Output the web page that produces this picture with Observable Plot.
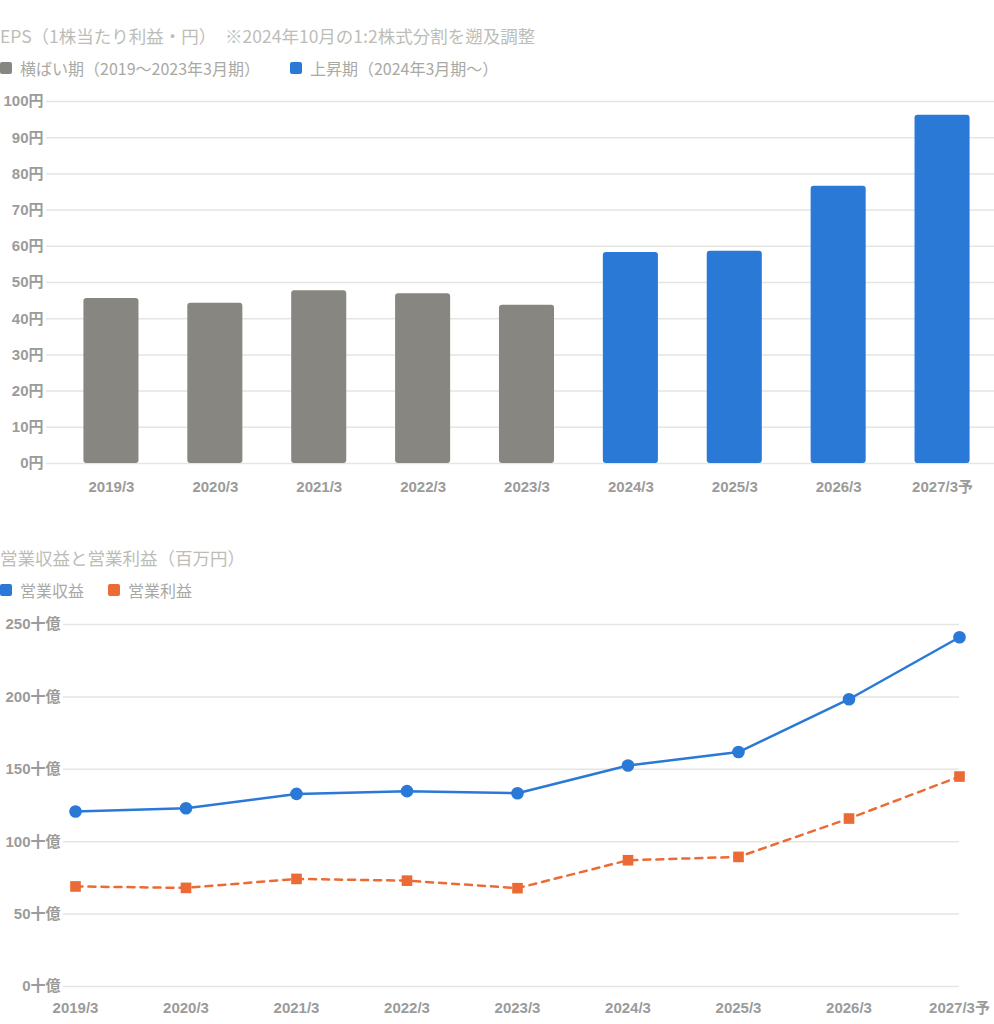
<!DOCTYPE html>
<html>
<head>
<meta charset="utf-8">
<script src="https://cdn.jsdelivr.net/npm/d3@7"></script>
<script src="https://cdn.jsdelivr.net/npm/@observablehq/plot@0.6"></script>
<style>
  html, body { margin: 0; padding: 0; background: #fff; }
  #wrap { position: relative; width: 994px; height: 1024px; overflow: hidden; font-family: "Noto Sans CJK JP", "Noto Sans", sans-serif; }
  .title { position: absolute; left: 0; font-size: 17.5px; color: #bdbdb7; white-space: nowrap; line-height: 1; }
  .legend { position: absolute; left: 0; font-size: 16px; color: #a9a9a4; white-space: nowrap; line-height: 1; display: flex; align-items: center; }
  .legend .item { display: flex; align-items: center; }
  .legend .sw { width: 12px; height: 12px; border-radius: 2px; margin-right: 8px; }
  .chart { position: absolute; left: 0; }
</style>
</head>
<body>
<div id="wrap">
  <div class="title" id="t1" style="top:27px"></div>
  <div class="legend" id="l1" style="top:60px"></div>
  <div class="chart" id="c1" style="top:90px"></div>
  <div class="title" id="t2" style="top:549px"></div>
  <div class="legend" id="l2" style="top:582px"></div>
  <div class="chart" id="c2" style="top:610px"></div>
</div>
<script>
// ---- data ----
const years = ["2019/3", "2020/3", "2021/3", "2022/3", "2023/3", "2024/3", "2025/3", "2026/3", "2027/3予"];
const eps = [45.6, 44.3, 47.7, 46.9, 43.7, 58.3, 58.6, 76.6, 96.2];
const phase = ["横ばい期", "横ばい期", "横ばい期", "横ばい期", "横ばい期", "上昇期", "上昇期", "上昇期", "上昇期"];
const phaseLabels = ["横ばい期（2019〜2023年3月期）", "上昇期（2024年3月期〜）"];
const revenue = [120.9, 123.1, 133.0, 134.9, 133.5, 152.6, 161.9, 198.4, 241.2];
const opIncome = [69.1, 68.1, 74.3, 73.1, 67.9, 87.2, 89.5, 116.0, 145.0];
const epsTicks = [0, 10, 20, 30, 40, 50, 60, 70, 80, 90, 100];
const revTicks = [0, 50, 100, 150, 200, 250];
const title1 = "EPS（1株当たり利益・円）　※2024年10月の1:2株式分割を遡及調整";
const title2 = "営業収益と営業利益（百万円）";
const seriesNames = ["営業収益", "営業利益"];

const gray = "#878680", blue = "#2a79d6", orange = "#ec6a35";
const gridColor = "#e6e5e0";
const tickFont = '"Liberation Sans", Arial, "Noto Sans CJK JP", sans-serif';

document.getElementById("t1").textContent = title1;
document.getElementById("t2").textContent = title2;

function legend(el, items, gap) {
  const node = document.getElementById(el);
  items.forEach(([label, color]) => {
    const it = document.createElement("div");
    it.className = "item";
    it.style.marginRight = gap + "px";
    const sw = document.createElement("div");
    sw.className = "sw"; sw.style.background = color;
    const tx = document.createElement("span");
    tx.textContent = label;
    it.appendChild(sw); it.appendChild(tx);
    node.appendChild(it);
  });
}
legend("l1", [[phaseLabels[0], gray], [phaseLabels[1], blue]], 30);
legend("l2", [[seriesNames[0], blue], [seriesNames[1], orange]], 24);

const epsData = years.map((y, i) => ({year: y, eps: eps[i], phase: phase[i]}));

const chart1 = Plot.plot({
  width: 994,
  height: 415,
  marginTop: 11,
  marginBottom: 42,
  marginLeft: 46,
  marginRight: 0,
  style: {fontFamily: tickFont, fontSize: "15px", fontWeight: "bold", color: "#9b9b9b", background: "transparent"},
  x: {type: "band", domain: years, paddingInner: 0.47, paddingOuter: 0.235, insetLeft: 13, round: false},
  y: {domain: [0, 100]},
  color: {domain: ["横ばい期", "上昇期"], range: [gray, blue]},
  marks: [
    Plot.ruleY(epsTicks, {stroke: gridColor, strokeWidth: 1.5}),
    Plot.barY(epsData, {x: "year", y: "eps", fill: "phase", rx: 3}),
    Plot.axisY(epsTicks, {tickSize: 0, tickPadding: 3, tickFormat: d => d + "円", label: null}),
    Plot.axisX({tickSize: 0, tickPadding: 18, label: null})
  ]
});
document.getElementById("c1").appendChild(chart1);

const revData = years.map((y, i) => ({year: y, value: revenue[i]}));
const opData = years.map((y, i) => ({year: y, value: opIncome[i]}));

const chart2 = Plot.plot({
  width: 994,
  height: 414,
  marginTop: 14,
  marginBottom: 38,
  marginLeft: 63,
  marginRight: 35,
  style: {fontFamily: tickFont, fontSize: "15px", fontWeight: "bold", color: "#9b9b9b", background: "transparent"},
  x: {type: "point", domain: years, padding: 0, insetLeft: 12, round: false},
  y: {domain: [0, 250]},
  marks: [
    Plot.ruleY(revTicks, {stroke: gridColor, strokeWidth: 1.5}),
    Plot.line(opData, {x: "year", y: "value", stroke: orange, strokeWidth: 2.5, strokeDasharray: "7,6"}),
    Plot.dot(opData, {x: "year", y: "value", symbol: "square", r: 6, fill: orange, stroke: null}),
    Plot.line(revData, {x: "year", y: "value", stroke: blue, strokeWidth: 2.5}),
    Plot.dot(revData, {x: "year", y: "value", r: 6.3, fill: blue, stroke: null}),
    Plot.axisY(revTicks, {tickSize: 0, tickPadding: 3, tickFormat: d => d + "十億", label: null}),
    Plot.axisX({tickSize: 0, tickPadding: 16, label: null})
  ]
});
document.getElementById("c2").appendChild(chart2);
</script>
</body>
</html>
